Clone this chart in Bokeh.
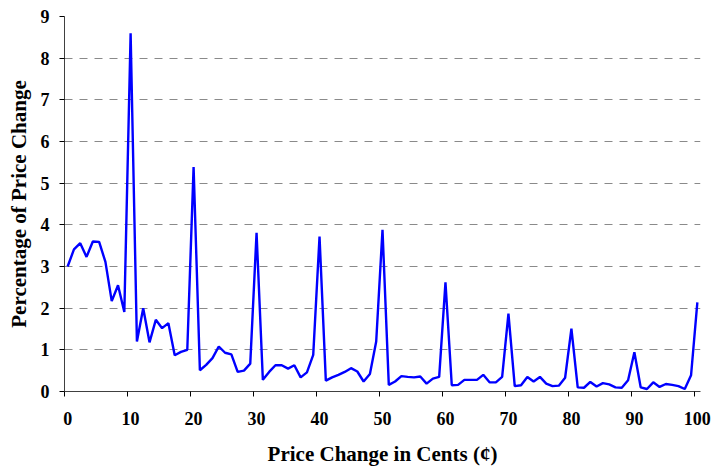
from bokeh.plotting import figure
from bokeh.models import Range1d, FixedTicker, ColumnDataSource
from bokeh.embed import file_html
from bokeh.resources import INLINE

cents = list(range(0, 101))
percentage = [
    3.00, 3.41, 3.56, 3.23, 3.60, 3.59, 3.11, 2.17, 2.55, 1.91,
    8.60, 1.20, 2.00, 1.18, 1.72, 1.52, 1.64, 0.87, 0.95, 1.00,
    5.39, 0.51, 0.64, 0.80, 1.08, 0.93, 0.89, 0.47, 0.50, 0.67,
    3.81, 0.28, 0.47, 0.63, 0.63, 0.55, 0.63, 0.34, 0.46, 0.88,
    3.72, 0.26, 0.34, 0.40, 0.47, 0.56, 0.48, 0.24, 0.42, 1.20,
    3.88, 0.16, 0.24, 0.37, 0.35, 0.34, 0.36, 0.19, 0.31, 0.35,
    2.62, 0.15, 0.16, 0.28, 0.28, 0.28, 0.40, 0.22, 0.22, 0.35,
    1.87, 0.13, 0.15, 0.35, 0.24, 0.35, 0.19, 0.13, 0.14, 0.33,
    1.51, 0.10, 0.09, 0.23, 0.12, 0.20, 0.17, 0.10, 0.09, 0.27,
    0.94, 0.10, 0.06, 0.22, 0.11, 0.18, 0.16, 0.13, 0.06, 0.39,
    2.14,
]
x_tick_labels = [0, 10, 20, 30, 40, 50, 60, 70, 80, 90, 100]
y_ticks = [0, 1, 2, 3, 4, 5, 6, 7, 8, 9]

src = ColumnDataSource(data=dict(x=cents, y=percentage))

p = figure(width=711, height=468, output_backend="svg", toolbar_location=None,
           x_range=Range1d(-0.5, 100.5), y_range=Range1d(0, 9),
           min_border_left=64, min_border_right=11, min_border_top=16,
           min_border_bottom=77)
p.outline_line_color = None
p.background_fill_color = "white"

p.line("x", "y", source=src, line_color="#0000FF", line_width=2.4)

FONT = "Liberation Serif"

# x axis: labels at category centres, tick marks at category boundaries
p.xaxis.ticker = FixedTicker(ticks=x_tick_labels,
                             minor_ticks=[t - 0.5 for t in x_tick_labels])
p.xaxis.major_tick_line_color = None
p.xaxis.major_tick_out = 5
p.xaxis.major_tick_in = 0
p.xaxis.minor_tick_out = 5
p.xaxis.minor_tick_in = 0
p.xaxis.minor_tick_line_color = "black"
p.xaxis.major_label_standoff = 15
p.xaxis.axis_label = "Price Change in Cents (\u00a2)"
p.xaxis.axis_label_standoff = 14

p.yaxis.ticker = FixedTicker(ticks=y_ticks)
p.yaxis.major_tick_out = 5
p.yaxis.major_tick_in = 0
p.yaxis.minor_tick_line_color = None
p.yaxis.major_label_standoff = 10
p.yaxis.axis_label = "Percentage of Price Change"
p.yaxis.axis_label_standoff = 7

for ax in (p.xaxis, p.yaxis):
    ax.axis_line_color = "#404040"
    ax.axis_line_width = 1
    ax.major_label_text_font = FONT
    ax.major_label_text_font_style = "bold"
    ax.major_label_text_font_size = "18px"
    ax.major_label_text_color = "black"
    ax.axis_label_text_font = FONT
    ax.axis_label_text_font_style = "bold"
    ax.axis_label_text_font_size = "21px"
    ax.axis_label_text_color = "black"

p.yaxis.major_tick_line_color = "black"

p.xgrid.grid_line_color = None
p.ygrid.ticker = FixedTicker(ticks=y_ticks[1:])
p.ygrid.grid_line_color = "#8a8a8a"
p.ygrid.grid_line_dash = "8 7"
p.ygrid.grid_line_width = 1

open("out.html", "w").write(file_html(p, INLINE))
